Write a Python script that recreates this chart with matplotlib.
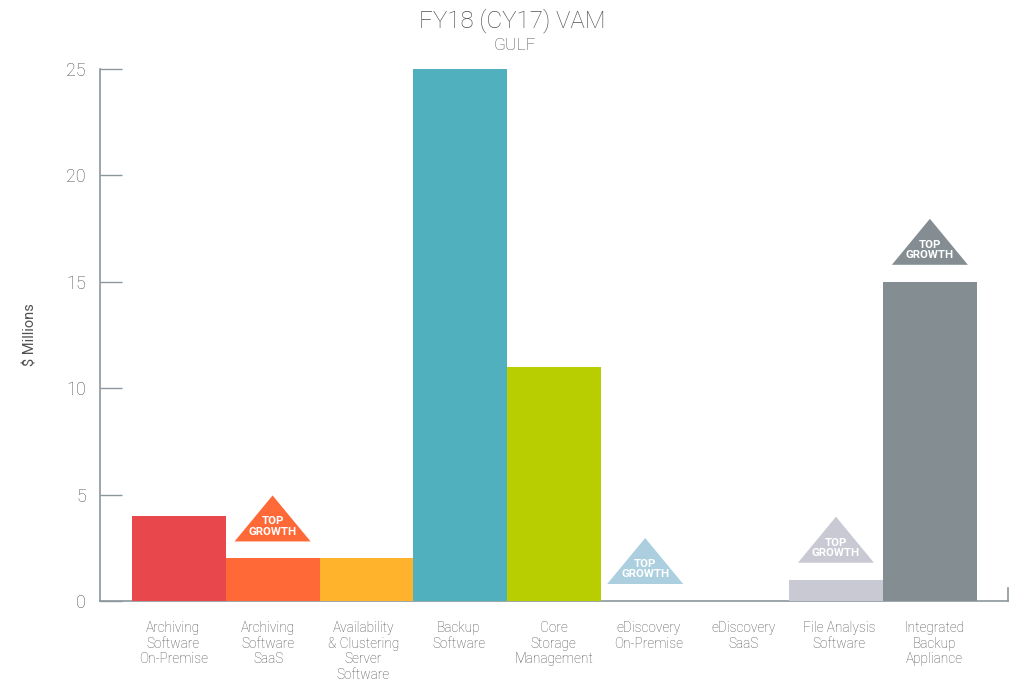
import matplotlib
matplotlib.use("Agg")
import matplotlib.pyplot as plt
from matplotlib.patches import Polygon
from matplotlib.transforms import ScaledTranslation

categories = ["Archiving\nSoftware\nOn-Premise", "Archiving\nSoftware\nSaaS", "Availability\n& Clustering\nServer\nSoftware",
              "Backup\nSoftware", "Core\nStorage\nManagement", "eDiscovery\nOn-Premise", "eDiscovery\nSaaS",
              "File Analysis\nSoftware", "Integrated\nBackup\nAppliance"]
values = [4, 2, 2, 25, 11, 0, 0, 1, 15]
colors = ["#E8474C", "#FF6937", "#FFB32C", "#50B0BE", "#B9CE00", "#ABCFDF", "#C8C9D3", "#C8C9D3", "#838D92"]
top_growth = [1, 5, 7, 8]  # category index with a triangle
tri_shift = [0, -3, 0, 0]  # pixels, the triangles are not all centred on their bar
y_ticks = [0, 5, 10, 15, 20, 25]

axis_color = "#8B979C"
text_color = "#4F5052"
plt.rcParams["font.family"] = ["Roboto", "DejaVu Sans"]
plt.rcParams["font.weight"] = "light"

W, H = 1015, 683
fig = plt.figure(figsize=(W / 100, H / 100), dpi=100)
ax = fig.add_axes([100 / W, 1 - 601 / H, 908 / W, 532 / H])

x = list(range(len(categories)))
ax.bar(x, values, width=1.0, color=colors, zorder=3)
ax.set_xlim(-0.838, 8.832)
ax.set_ylim(0, 25)

ax.spines["top"].set_visible(False)
ax.spines["right"].set_bounds(0, 0.6)
for s in ["left", "bottom", "right"]:
    ax.spines[s].set_color(axis_color)
    ax.spines[s].set_linewidth(1.2)

ax.set_yticks(y_ticks)
ax.tick_params(axis="y", direction="in", length=16, width=1.0, color=axis_color, pad=10, labelsize=13, labelcolor=text_color)
ax.set_xticks(x, categories)
ax.tick_params(axis="x", length=0, pad=14.5, labelsize=9.8, labelcolor=text_color)

# labels are spaced a little wider than the bars in the original
for i, lab in enumerate(ax.get_xticklabels()):
    dx = (-5.5 + 1.2 * i) * 0.72 / 72
    lab.set_transform(lab.get_transform() + ScaledTranslation(dx, 0, fig.dpi_scale_trans))
    lab.set_linespacing(1.14)

ax.set_ylabel("\\$ Millions", fontsize=10.5, color=text_color)
ax.yaxis.set_label_coords((38 - 100) / 908, (601 - 335) / 532)

fig.suptitle("FY18 (CY17) VAM", x=512 / W, y=1 - 21 / H, va="center", fontsize=17.4, color=text_color, fontweight="light")
fig.text(515 / W, 1 - 46 / H, "GULF", ha="center", va="center", fontsize=12.5, color=text_color)

for i, shift in zip(top_growth, tri_shift):
    place = ScaledTranslation(i, values[i], ax.transData)
    ax.add_patch(Polygon([(shift - 38, 17), (shift + 38, 17), (shift, 63)], closed=True, facecolor=colors[i], edgecolor="none",
                         transform=place, clip_on=False, zorder=4))
    ax.text(shift, 32, "TOP\nGROWTH", transform=place, ha="center", va="center", color="white", fontsize=8.2,
            fontweight="bold", linespacing=1.05, zorder=5)

fig.savefig("out.png", dpi=100)
